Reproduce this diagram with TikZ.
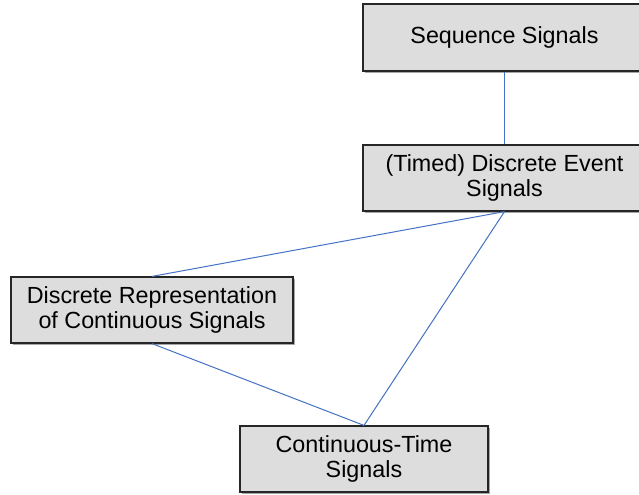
\documentclass[tikz,border=0pt]{standalone}
\usepackage{fontspec}
\setmainfont{Liberation Sans}
\begin{document}
\begin{tikzpicture}[x=0.75pt,y=-0.75pt,
  sigbox/.style={draw=black!85,line width=0.9pt,fill=boxgray,inner sep=0pt,
    align=center,font=\fontsize{17.5}{18.6}\selectfont},
  link/.style={draw=linkblue,line width=0.75pt}]
\definecolor{boxgray}{RGB}{221,221,221}
\definecolor{linkblue}{RGB}{68,114,196}
\useasboundingbox (0,0) rectangle (639,494);
\fill[white] (0,0) rectangle (639,494);
% shadows
\fill[black!35] (365,6) rectangle (648,73);
\fill[black!35] (365,147) rectangle (648,213);
\fill[black!35] (13,279) rectangle (295,345);
\fill[black!35] (242,428) rectangle (490,494);
\node[sigbox,minimum width=283*0.75pt,minimum height=67*0.75pt] (seq) at (504.5,37.5) {Sequence Signals};
\node[sigbox,minimum width=283*0.75pt,minimum height=66*0.75pt] (des) at (504.5,178) {(Timed) Discrete Event\\Signals};
\node[sigbox,minimum width=282*0.75pt,minimum height=66*0.75pt] (drc) at (152,310) {Discrete Representation\\of Continuous Signals};
\node[sigbox,minimum width=248*0.75pt,minimum height=66*0.75pt] (ct) at (364,459) {Continuous-Time\\Signals};
\draw[link] (seq.south) -- (des.north);
\draw[link] (des.south) -- (drc.north);
\draw[link] (des.south) -- (ct.north);
\draw[link] (drc.south) -- (ct.north);
\end{tikzpicture}
\end{document}
